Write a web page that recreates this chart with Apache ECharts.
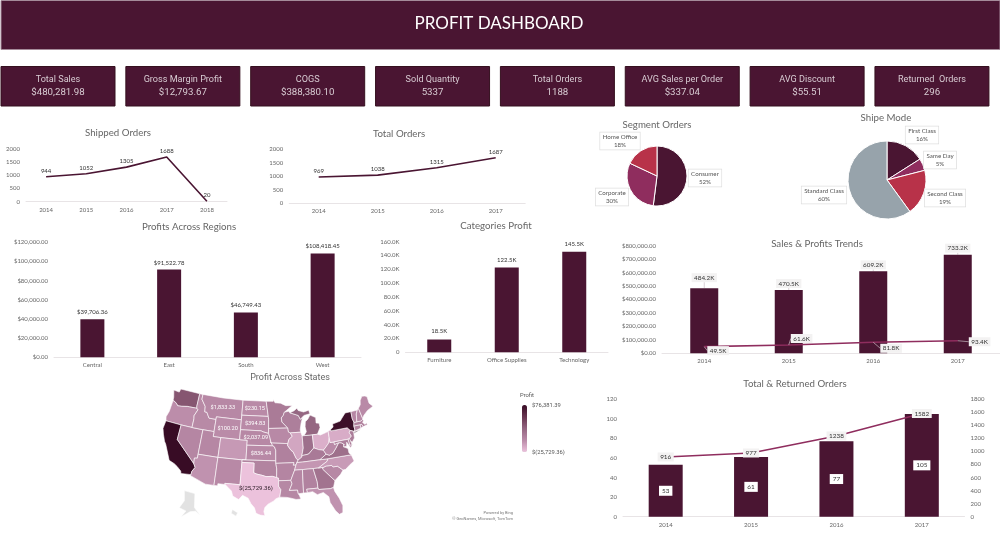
<!DOCTYPE html>
<html>
<head>
    <meta charset="utf-8">
    <title>Profit Dashboard</title>
    <script src="https://cdn.jsdelivr.net/npm/echarts@6/dist/echarts.min.js"></script>
</head>
<style>
    html, body {
        margin: 0;
        background: #fff;
    }
    #main {
        width: 1000px;
        height: 545px;
    }
</style>
<body>
    <div id="main"></div>
    <script type="text/javascript">
        var kpiLabels = ['Total Sales', 'Gross Margin Profit', 'COGS', 'Sold Quantity', 'Total Orders', 'AVG Sales per Order', 'AVG Discount', 'Returned  Orders'];
        var kpiValues = ['$480,281.98', '$12,793.67', '$388,380.10', '5337', '1188', '$337.04', '$55.51', '296'];

        var shippedYears = ['2014', '2015', '2016', '2017', '2018'];
        var shippedOrders = [944, 1052, 1305, 1688, 20];
        var years = ['2014', '2015', '2016', '2017'];
        var totalOrders = [969, 1038, 1315, 1687];

        var segmentNames = ['Consumer', 'Corporate', 'Home Office'];
        var segmentShare = [52, 30, 18];
        var shipNames = ['First Class', 'Same Day', 'Second Class', 'Standard Class'];
        var shipShare = [16, 5, 19, 60];

        var regionNames = ['Central', 'East', 'South', 'West'];
        var regionProfit = [39706.36, 91522.78, 46749.43, 108418.45];
        var categoryNames = ['Furniture', 'Office Supplies', 'Technology'];
        var categoryProfit = [18.5, 122.5, 145.5];

        var trendSales = [484.2, 470.5, 609.2, 733.2];
        var trendProfit = [49.5, 61.6, 81.8, 93.4];
        var returnedBars = [53, 61, 77, 105];
        var returnedLine = [916, 977, 1238, 1582];

        var stateNames = ['California', 'New York', 'Texas', 'Washington', 'Michigan', 'Virginia', 'Indiana', 'Georgia', 'Kentucky', 'Minnesota', 'Delaware', 'New Jersey', 'Wisconsin', 'Rhode Island', 'Maryland', 'Massachusetts', 'Missouri', 'Alabama', 'Oklahoma', 'Arkansas', 'Connecticut', 'Nevada', 'Mississippi', 'Utah', 'Vermont', 'Louisiana', 'Nebraska', 'Montana', 'South Carolina', 'New Hampshire', 'New Mexico', 'Iowa', 'Kansas', 'Idaho', 'Maine', 'South Dakota', 'North Dakota', 'District of Columbia', 'Wyoming', 'West Virginia', 'Tennessee', 'North Carolina', 'Ohio', 'Pennsylvania', 'Illinois', 'Florida', 'Oregon', 'Colorado', 'Arizona'];
        var stateProfit = [76381.39, 74038.55, -25729.36, 33402.65, 24463.19, 18597.95, 18382.94, 16250.04, 11199.70, 10823.19, 9977.37, 9772.91, 8401.80, 7285.63, 7031.18, 6785.50, 6436.21, 5786.83, 4853.96, 4008.69, 3511.49, 3316.77, 3172.98, 2546.53, 2244.98, 2196.10, 2037.09, 1833.33, 1769.06, 1706.50, 1157.12, 1183.81, 836.44, 826.72, 454.49, 394.83, 230.15, 1059.59, 100.20, 185.92, -5341.69, -7490.91, -16971.38, -15559.96, -12607.89, -3399.30, -1190.47, -6527.86, -3427.92];
        var labelledStates = ['Montana', 'North Dakota', 'South Dakota', 'Wyoming', 'Nebraska', 'Kansas', 'Texas'];

        // simplified state outlines, lon/lat. Alaska and Hawaii are moved under the mainland as inset shapes
        var stateShapes = {
            'Washington': [[[-124.7,48.4],[-123,48.3],[-122.8,49],[-117.03,49],[-117.04,46.4],[-116.9,45.99],[-119,45.93],[-119.6,45.92],[-121.2,45.65],[-122.3,45.55],[-122.8,45.9],[-123.4,46.2],[-124,46.3],[-124.1,47]]],
            'Oregon': [[[-124,46.3],[-123.4,46.2],[-122.8,45.9],[-122.3,45.55],[-121.2,45.65],[-119.6,45.92],[-119,45.93],[-116.9,45.99],[-116.5,45.75],[-117.2,44.4],[-117.03,43.8],[-117.03,42],[-120,42],[-124.2,42],[-124.5,42.8],[-124.1,44]]],
            'California': [[[-124.2,42],[-120,42],[-120,39],[-114.63,35],[-114.13,34.3],[-114.7,33.4],[-114.72,32.72],[-117.12,32.53],[-117.3,33],[-118.4,33.75],[-119.2,34.15],[-120.6,34.55],[-121.9,36.6],[-122.5,37.5],[-123,38],[-123.8,39.3],[-124.35,40.4]]],
            'Nevada': [[[-120,42],[-117.03,42],[-114.04,42],[-114.04,37],[-114.04,36.2],[-114.75,36.1],[-114.63,35],[-120,39]]],
            'Idaho': [[[-117.03,49],[-116.05,49],[-116.05,48],[-114.7,46.7],[-114.5,45.6],[-113.9,45.6],[-113.5,45.1],[-113,44.5],[-111.05,44.5],[-111.05,42],[-114.04,42],[-117.03,42],[-117.03,43.8],[-117.2,44.4],[-116.5,45.75],[-116.9,45.99],[-117.04,46.4]]],
            'Montana': [[[-116.05,49],[-110,49],[-104.05,49],[-104.05,45.94],[-104.05,45],[-111.05,45],[-111.05,44.5],[-113,44.5],[-113.5,45.1],[-113.9,45.6],[-114.5,45.6],[-114.7,46.7],[-116.05,48]]],
            'Wyoming': [[[-111.05,45],[-104.05,45],[-104.05,43],[-104.05,41],[-109.05,41],[-111.05,41],[-111.05,42],[-111.05,44.5]]],
            'Utah': [[[-114.04,42],[-111.05,42],[-111.05,41],[-109.05,41],[-109.05,37],[-114.04,37]]],
            'Colorado': [[[-109.05,41],[-104.05,41],[-102.05,41],[-102.05,40],[-102.05,37],[-103,37],[-109.05,37]]],
            'Arizona': [[[-114.04,37],[-109.05,37],[-109.05,31.33],[-111.07,31.33],[-114.82,32.5],[-114.72,32.72],[-114.7,33.4],[-114.13,34.3],[-114.63,35],[-114.75,36.1],[-114.04,36.2]]],
            'New Mexico': [[[-109.05,37],[-103,37],[-103,36.5],[-103.05,32],[-106.6,32],[-106.5,31.78],[-108.2,31.78],[-108.2,31.33],[-109.05,31.33]]],
            'North Dakota': [[[-104.05,49],[-97.2,49],[-96.56,45.93],[-104.05,45.94]]],
            'South Dakota': [[[-104.05,45.94],[-96.56,45.93],[-96.45,45.3],[-96.45,43.5],[-96.45,42.5],[-97.9,42.8],[-98.5,43],[-104.05,43]]],
            'Nebraska': [[[-104.05,43],[-98.5,43],[-97.9,42.8],[-96.45,42.5],[-96.1,41.7],[-95.85,40.7],[-95.3,40],[-102.05,40],[-102.05,41],[-104.05,41]]],
            'Kansas': [[[-102.05,40],[-95.3,40],[-94.9,39.8],[-94.6,39.1],[-94.62,37],[-103,37],[-102.05,37]]],
            'Oklahoma': [[[-103,37],[-94.62,37],[-94.62,36.5],[-94.43,35.4],[-94.48,33.64],[-95.5,33.9],[-97,33.85],[-98,34.1],[-99.2,34.3],[-100,34.56],[-100,36.5],[-103,36.5]]],
            'Texas': [[[-106.6,32],[-103.05,32],[-103,36.5],[-100,36.5],[-100,34.56],[-99.2,34.3],[-98,34.1],[-97,33.85],[-95.5,33.9],[-94.48,33.64],[-94.04,33.55],[-94.04,33],[-94.05,31.9],[-93.55,31.2],[-93.85,29.7],[-94.7,29.4],[-95.3,28.9],[-96.5,28.3],[-97.2,27.6],[-97.4,26.8],[-97.15,25.95],[-98.2,26.05],[-99.1,26.4],[-99.5,27.5],[-100.3,28.3],[-101,29.4],[-102.3,29.9],[-103.1,29],[-104.5,29.6],[-104.9,30.6],[-106.5,31.78]]],
            'Minnesota': [[[-97.2,49],[-95.15,49],[-95.15,49.38],[-94.6,48.7],[-93,48.6],[-91.5,48.05],[-89.6,48],[-92,46.7],[-92.3,46.1],[-92.9,45.6],[-92.75,44.75],[-91.22,43.5],[-96.45,43.5],[-96.45,45.3],[-96.56,45.93]]],
            'Iowa': [[[-96.45,43.5],[-91.22,43.5],[-91.1,42.7],[-90.65,42.5],[-90.15,41.8],[-91.1,41.2],[-91.42,40.38],[-95.77,40.58],[-95.85,40.7],[-96.1,41.7],[-96.45,42.5]]],
            'Missouri': [[[-95.77,40.58],[-91.42,40.38],[-91.5,40],[-90.7,39],[-90.2,38.7],[-89.5,37.3],[-89.1,36.95],[-89.42,36.5],[-89.7,36],[-90.37,36],[-90.15,36.5],[-94.62,36.5],[-94.62,37],[-94.6,39.1],[-94.9,39.8],[-95.3,40],[-95.85,40.7]]],
            'Arkansas': [[[-94.62,36.5],[-90.15,36.5],[-90.37,36],[-89.7,36],[-90.1,35],[-91.15,33],[-94.04,33],[-94.04,33.55],[-94.48,33.64],[-94.43,35.4]]],
            'Louisiana': [[[-94.04,33],[-91.15,33],[-90.9,32.3],[-91.6,31],[-89.73,31],[-89.6,30.2],[-89.4,29.9],[-89.1,29.1],[-90.2,29.1],[-91.3,29.4],[-92.2,29.6],[-93.85,29.7],[-93.55,31.2],[-94.05,31.9]]],
            'Wisconsin': [[[-92,46.7],[-90.8,46.9],[-90.4,46.55],[-88.1,45.9],[-87.6,45.1],[-87,45.3],[-87.5,44.3],[-87.9,43],[-87.8,42.5],[-90.65,42.5],[-91.1,42.7],[-91.22,43.5],[-92.75,44.75],[-92.9,45.6],[-92.3,46.1]]],
            'Illinois': [[[-90.65,42.5],[-87.8,42.5],[-87.53,41.7],[-87.53,39.3],[-88.05,37.8],[-88.1,37.5],[-89.1,36.95],[-89.5,37.3],[-90.2,38.7],[-90.7,39],[-91.5,40],[-91.42,40.38],[-91.1,41.2],[-90.15,41.8]]],
            'Indiana': [[[-87.53,41.7],[-87,41.75],[-84.8,41.75],[-84.82,39.1],[-85.4,38.7],[-86.3,38],[-87,37.9],[-88.05,37.8],[-87.53,39.3]]],
            'Michigan': [[[-87,41.75],[-84.8,41.75],[-83.45,41.73],[-82.5,43],[-82.6,43.9],[-83.4,44],[-83.3,45.1],[-84.8,45.75],[-85.5,45],[-86.3,44.5],[-86.5,43.5],[-86.3,42.5]], [[-90.4,46.55],[-88.1,45.9],[-87.6,45.1],[-86.5,45.8],[-84.8,46],[-85,46.75],[-86.5,46.5],[-88,46.9],[-88.3,47.4],[-89.2,46.9]]],
            'Ohio': [[[-84.8,41.75],[-83.45,41.73],[-82.7,41.5],[-81.3,41.8],[-80.52,42],[-80.52,40.64],[-80.85,39.7],[-81.7,39],[-82.5,38.4],[-83.7,38.65],[-84.82,39.1]]],
            'Kentucky': [[[-84.82,39.1],[-83.7,38.65],[-82.5,38.4],[-81.97,37.54],[-83.68,36.6],[-88.07,36.5],[-89.42,36.5],[-89.1,36.95],[-88.1,37.5],[-88.05,37.8],[-87,37.9],[-86.3,38],[-85.4,38.7]]],
            'Tennessee': [[[-83.68,36.6],[-81.68,36.59],[-82,36.1],[-84.32,35],[-85.6,35],[-88.2,35],[-90.1,35],[-89.7,36],[-89.42,36.5],[-88.07,36.5]]],
            'Mississippi': [[[-90.1,35],[-88.2,35],[-88.4,30.3],[-89.6,30.2],[-89.73,31],[-91.6,31],[-90.9,32.3],[-91.15,33]]],
            'Alabama': [[[-88.2,35],[-85.6,35],[-85,32.3],[-85,31],[-87.6,31],[-87.5,30.3],[-88.4,30.3]]],
            'Georgia': [[[-85.6,35],[-84.32,35],[-83.1,35],[-83.35,34.7],[-81.4,32.6],[-80.85,32.05],[-81.45,30.72],[-82.2,30.57],[-84.86,30.7],[-85,31],[-85,32.3]]],
            'Florida': [[[-87.6,31],[-85,31],[-84.86,30.7],[-82.2,30.57],[-81.45,30.72],[-81.3,29.9],[-80.55,28.4],[-80.05,26.8],[-80.3,25.4],[-81.1,25.15],[-81.8,26],[-82.7,27.8],[-82.8,29],[-83.9,30],[-85.3,29.7],[-86.3,30.4],[-87.5,30.3]]],
            'South Carolina': [[[-83.35,34.7],[-83.1,35],[-82.4,35.2],[-81,35.15],[-80.8,34.82],[-79.67,34.8],[-78.55,33.86],[-79.3,33.1],[-80.85,32.05],[-81.4,32.6]]],
            'North Carolina': [[[-84.32,35],[-82,36.1],[-81.68,36.59],[-75.85,36.55],[-75.5,35.2],[-76.6,34.7],[-77.9,33.9],[-78.55,33.86],[-79.67,34.8],[-80.8,34.82],[-81,35.15],[-82.4,35.2],[-83.1,35]]],
            'Virginia': [[[-83.68,36.6],[-81.97,37.54],[-81.2,37.25],[-80.3,37.5],[-79.3,38.42],[-78.35,39.4],[-77.7,39.3],[-77.1,38.9],[-77.3,38.4],[-76.3,37.9],[-76.3,37],[-75.85,36.55],[-81.68,36.59]]],
            'West Virginia': [[[-82.5,38.4],[-81.7,39],[-80.85,39.7],[-80.52,40.64],[-80.52,39.72],[-79.48,39.72],[-79.48,39.2],[-78.35,39.4],[-79.3,38.42],[-80.3,37.5],[-81.2,37.25],[-81.97,37.54]]],
            'Pennsylvania': [[[-80.52,42],[-79.76,42.27],[-79.76,42],[-75.35,42],[-74.7,41.35],[-75.1,40.95],[-74.75,40.2],[-75.4,39.8],[-75.79,39.72],[-79.48,39.72],[-80.52,39.72],[-80.52,40.64]]],
            'New York': [[[-79.76,42.27],[-79,42.7],[-79,43.3],[-76.8,43.6],[-76.2,44.1],[-75,45],[-73.35,45],[-73.45,43.6],[-73.25,42.75],[-73.5,42.05],[-73.5,41.3],[-73.65,41],[-73.9,41],[-74.7,41.35],[-75.35,42],[-79.76,42]], [[-74,40.6],[-72,41.05],[-73.7,40.9]]],
            'New Jersey': [[[-74.7,41.35],[-73.9,41],[-74,40.5],[-74.1,39.7],[-74.9,38.95],[-75.5,39.5],[-75.4,39.8],[-74.75,40.2],[-75.1,40.95]]],
            'Delaware': [[[-75.79,39.72],[-75.4,39.8],[-75.05,38.45],[-75.7,38.46]]],
            'Maryland': [[[-79.48,39.72],[-75.79,39.72],[-75.7,38.46],[-75.05,38.45],[-75.6,37.95],[-76.3,39.2],[-76.5,38.4],[-77.3,38.4],[-77.1,38.9],[-77.7,39.3],[-78.35,39.4],[-79.48,39.2]]],
            'District of Columbia': [[[-77.12,38.93],[-77.04,39],[-76.95,38.9],[-77.04,38.8]]],
            'Connecticut': [[[-73.5,42.05],[-71.8,42.02],[-71.8,41.32],[-73.65,41],[-73.5,41.3]]],
            'Rhode Island': [[[-71.8,42.02],[-71.38,42.02],[-71.15,41.5],[-71.8,41.32]]],
            'Massachusetts': [[[-73.25,42.75],[-72.45,42.73],[-71.3,42.7],[-70.8,42.87],[-70.6,42.65],[-71,42.3],[-70.5,41.8],[-70,42.05],[-69.95,41.65],[-70.65,41.55],[-71.15,41.5],[-71.38,42.02],[-71.8,42.02],[-73.5,42.05]]],
            'Vermont': [[[-73.35,45],[-71.5,45],[-72.05,44.3],[-72.45,42.73],[-73.25,42.75],[-73.45,43.6]]],
            'New Hampshire': [[[-71.5,45],[-71.08,45.3],[-70.7,43.1],[-70.8,42.87],[-71.3,42.7],[-72.45,42.73],[-72.05,44.3]]],
            'Maine': [[[-71.08,45.3],[-70.3,45.9],[-70,46.7],[-69.2,47.45],[-68.3,47.35],[-67.8,47.05],[-67.8,45.7],[-67,44.9],[-68.8,44.4],[-70.2,43.6],[-70.7,43.1]]],
            'Alaska': [[[-115.49,29.3],[-113.03,29.1],[-112.57,26.3],[-111.03,24.9],[-112.18,25.6],[-113.34,25.3],[-115.03,23.9],[-114.26,25.3],[-115.8,25.7],[-115.03,27.3]]],
            'Hawaii': [[[-104.3,26.9],[-103.1,26.3],[-103.4,25.6],[-104.5,26.1]]]
        };

        var DARK = '#4a1532', MAGENTA = '#8f2d5e', RED = '#b83249', GREY = '#97a3ab';
        var CHART_FONT = 'Lato', KPI_FONT = 'Roboto';

        // albers conic, y stretched a bit because the picture's map is taller than true albers
        var RAD = Math.PI / 180;
        var STRETCH = 1.18;
        var P1 = 29.5 * RAD, P2 = 45.5 * RAD, P0 = 37.5 * RAD, L0 = -96 * RAD;
        var N = (Math.sin(P1) + Math.sin(P2)) / 2;
        var C = Math.cos(P1) * Math.cos(P1) + 2 * N * Math.sin(P1);
        var R0 = Math.sqrt(C - 2 * N * Math.sin(P0)) / N;
        var albers = {
            project: function (p) {
                var r = Math.sqrt(C - 2 * N * Math.sin(p[1] * RAD)) / N;
                var t = N * (p[0] * RAD - L0);
                return [1000 * r * Math.sin(t), -1000 * STRETCH * (R0 - r * Math.cos(t))];
            },
            unproject: function (p) {
                var x = p[0] / 1000, y = R0 + p[1] / (1000 * STRETCH);
                var r = Math.sqrt(x * x + y * y);
                var lat = Math.asin((C - r * r * N * N) / (2 * N));
                return [(Math.atan2(x, y) / N + L0) / RAD, lat / RAD];
            }
        };

        var features = [];
        for (var name in stateShapes) {
            features.push({
                type: 'Feature',
                properties: { name: name },
                geometry: { type: 'MultiPolygon', coordinates: stateShapes[name].map(function (ring) { return [ring]; }) }
            });
        }
        echarts.registerMap('USA', { type: 'FeatureCollection', features: features });

        var stateData = stateNames.map(function (name, i) {
            var item = { name: name, value: stateProfit[i] };
            if (labelledStates.indexOf(name) >= 0) {
                item.label = { show: true };
                if (name == 'Texas') {
                    item.label.color = '#2a1a24';
                    item.label.fontSize = 6;
                }
            }
            return item;
        });

        function money(v) {
            var s = Math.abs(v).toFixed(2).replace(/\B(?=(\d{3})+(?!\d))/g, ',');
            return v < 0 ? '$(' + s + ')' : '$' + s;
        }
        function axisText(size) {
            return { fontFamily: CHART_FONT, fontSize: size || 6, color: '#666' };
        }
        function makeTitle(text, x, y, font, size) {
            return {
                text: text, left: x, top: y - 6, textAlign: 'center', padding: 0,
                textStyle: { fontFamily: font || CHART_FONT, fontSize: size || 9.7, fontWeight: 'normal', color: '#666' }
            };
        }
        function makeGrid(left, top, width, height) {
            return { left: left, top: top, width: width, height: height };
        }
        function makeX(names, gridIndex) {
            return {
                type: 'category', gridIndex: gridIndex, data: names,
                axisTick: { show: false },
                axisLine: { lineStyle: { color: '#e8e4e6', width: 1 } },
                axisLabel: Object.assign(axisText(), { margin: 5, interval: 0 })
            };
        }
        function makeY(gridIndex, max, step, format, position) {
            return {
                type: 'value', gridIndex: gridIndex, min: 0, max: max, interval: step, position: position || 'left',
                splitLine: { show: false }, axisLine: { show: false }, axisTick: { show: false },
                axisLabel: Object.assign(axisText(), { margin: 6, formatter: format || function (v) { return String(v); } })
            };
        }
        function pointLabel(extra) {
            return Object.assign({
                show: true, fontFamily: CHART_FONT, fontSize: 6, color: '#333'
            }, extra);
        }
        function makePie(names, shares, colors, cx, cy, radius, labelX, labelY) {
            return {
                type: 'pie', center: [cx, cy], radius: radius, startAngle: 90, clockwise: true,
                avoidLabelOverlap: false, silent: true,
                data: names.map(function (n, i) { return { name: n, value: shares[i] }; }),
                itemStyle: {
                    color: function (p) { return colors[p.dataIndex]; },
                    borderColor: '#fff', borderWidth: 1
                },
                label: {
                    position: 'outside', formatter: '{b}\n{c}%', fontFamily: CHART_FONT, fontSize: 6.2, lineHeight: 7.5,
                    color: '#555', align: 'center', backgroundColor: '#fff', borderColor: '#dedede', borderWidth: 0.7, padding: [1, 2.5]
                },
                labelLine: { show: false },
                labelLayout: function (p) {
                    return { x: labelX[p.dataIndex], y: labelY[p.dataIndex], align: 'center', verticalAlign: 'middle' };
                }
            };
        }

        // offsets of the moved labels, dx and dy per point
        var salesDy = [-4, 0, 0, 0];
        var profitDx = [3, 2, 7, 11];
        var profitDy = [4, -6.5, 6, 1];
        var leader = { show: true, lineStyle: { color: '#c8bcc3', width: 0.7 } };

        var graphics = [{
            type: 'rect', shape: { x: 1, y: 0.5, width: 999, height: 49 },
            style: { fill: DARK, stroke: '#a58b9a', lineWidth: 1 }
        }, {
            type: 'text', x: 499, y: 24,
            style: { text: 'PROFIT DASHBOARD', fill: '#fff', font: '17px Lato', textAlign: 'center', textVerticalAlign: 'middle' }
        }];
        kpiLabels.forEach(function (label, i) {
            var x = 1 + i * 124.85;
            graphics.push({
                type: 'rect', shape: { x: x, y: 66.5, width: 114, height: 39.5 },
                style: { fill: DARK, stroke: '#35101f', lineWidth: 1 }
            });
            graphics.push({
                type: 'text', x: x + 57, y: 79.5,
                style: { text: label, fill: '#d8ccd3', font: '9.1px ' + KPI_FONT, textAlign: 'center', textVerticalAlign: 'middle' }
            });
            graphics.push({
                type: 'text', x: x + 57, y: 92.3,
                style: { text: kpiValues[i], fill: '#d8ccd3', font: '9.7px ' + KPI_FONT, textAlign: 'center', textVerticalAlign: 'middle' }
            });
        });
        // map legend text and bing credit
        graphics.push(
            { type: 'text', x: 520, y: 396, style: { text: 'Profit', fill: '#555', font: '5.8px ' + KPI_FONT, textVerticalAlign: 'middle' } },
            { type: 'text', x: 532, y: 406, style: { text: money(76381.39), fill: '#555', font: '5.8px ' + KPI_FONT, textVerticalAlign: 'middle' } },
            { type: 'text', x: 532, y: 453, style: { text: money(-25729.36), fill: '#555', font: '5.8px ' + KPI_FONT, textVerticalAlign: 'middle' } },
            { type: 'text', x: 513, y: 513, style: { text: 'Powered by Bing', fill: '#777', font: '4px ' + KPI_FONT, textAlign: 'right', textVerticalAlign: 'middle' } },
            { type: 'text', x: 513, y: 518.5, style: { text: '\u00a9 GeoNames, Microsoft, TomTom', fill: '#777', font: '4px ' + KPI_FONT, textAlign: 'right', textVerticalAlign: 'middle' } }
        );

        var option = {
            animation: false,
            backgroundColor: '#fff',
            graphic: graphics,
            title: [
                makeTitle('Shipped Orders', 118, 134),
                makeTitle('Total Orders', 399, 134.5),
                makeTitle('Segment Orders', 657, 125.5),
                makeTitle('Shipe Mode', 886, 119),
                makeTitle('Profits Across Regions', 189, 228),
                makeTitle('Categories Profit', 496, 227),
                makeTitle('Sales & Profits Trends', 817, 245),
                makeTitle('Profit Across States', 290, 379, KPI_FONT, 9),
                makeTitle('Total & Returned Orders', 795, 385)
            ],
            grid: [
                makeGrid(26, 148.7, 201, 53),
                makeGrid(289.2, 149.3, 236, 53.7),
                makeGrid(54, 242.3, 307, 115),
                makeGrid(405.5, 241.7, 202.5, 110.6),
                makeGrid(662, 245.7, 351, 107.6),
                makeGrid(623, 399.3, 341.5, 117.4)
            ],
            xAxis: [
                makeX(shippedYears, 0), makeX(years, 1), makeX(regionNames, 2),
                makeX(categoryNames, 3), makeX(years, 4), makeX(years, 5)
            ],
            yAxis: [
                makeY(0, 2000, 500),
                makeY(1, 2000, 500),
                makeY(2, 120000, 20000, function (v) { return money(v); }),
                makeY(3, 160, 20, function (v) { return v == 0 ? '0' : v.toFixed(1) + 'K'; }),
                makeY(4, 800, 100, function (v) { return money(v * 1000); }),
                makeY(5, 120, 20),
                makeY(5, 1800, 200, null, 'right')
            ],
            visualMap: {
                type: 'continuous', seriesIndex: 0, min: -25729.36, max: 76381.39,
                left: 507, top: 390, itemWidth: 5, itemHeight: 47, text: null, showLabel: false,
                calculable: false, hoverLink: false, silent: true,
                inRange: { color: ['#ecc2dc', '#ba8ba8', '#946681', '#683550', '#380c25'] }
            },
            series: [{
                type: 'map', map: 'USA', projection: albers, silent: true,
                left: 163, top: 389, width: 210, height: 128,
                data: stateData,
                itemStyle: { areaColor: '#e2e2e2', borderColor: '#fff', borderWidth: 0.6 },
                label: {
                    show: false, color: '#fff', fontFamily: KPI_FONT, fontSize: 5.6,
                    formatter: function (p) { return money(p.value); }
                }
            }, {
                type: 'line', xAxisIndex: 0, yAxisIndex: 0, data: shippedOrders, symbol: 'circle', symbolSize: 0.1,
                lineStyle: { color: DARK, width: 1.6 }, itemStyle: { color: DARK, borderWidth: 0 },
                label: pointLabel({ position: 'top', distance: 3 })
            }, {
                type: 'line', xAxisIndex: 1, yAxisIndex: 1, data: totalOrders, symbol: 'circle', symbolSize: 0.1,
                lineStyle: { color: DARK, width: 1.6 }, itemStyle: { color: DARK, borderWidth: 0 },
                label: pointLabel({ position: 'top', distance: 3 })
            },
            makePie(segmentNames, segmentShare, [DARK, MAGENTA, RED], 657, 176, 30, [705, 612, 620], [178, 197, 141]),
            makePie(shipNames, shipShare, [DARK, MAGENTA, RED, GREY], 887, 180, 39, [922, 940, 945, 824], [135, 160, 198, 195]),
            {
                type: 'bar', xAxisIndex: 2, yAxisIndex: 2, data: regionProfit, barWidth: 24,
                itemStyle: { color: DARK },
                label: pointLabel({ position: 'top', distance: 4, formatter: function (p) { return money(p.value); } })
            }, {
                type: 'bar', xAxisIndex: 3, yAxisIndex: 3, data: categoryProfit, barWidth: 24,
                itemStyle: { color: DARK },
                label: pointLabel({ position: 'top', distance: 5, formatter: '{c}K' })
            }, {
                type: 'bar', xAxisIndex: 4, yAxisIndex: 4, data: trendSales, barWidth: 28,
                itemStyle: { color: DARK },
                label: pointLabel({ position: 'top', distance: 2, fontSize: 6.3, formatter: '{c}K', backgroundColor: '#f3f2f2', padding: [1.5, 2.5] }),
                labelLine: leader,
                labelLayout: function (p) {
                    return { dy: salesDy[p.dataIndex] };
                }
            }, {
                type: 'line', xAxisIndex: 4, yAxisIndex: 4, data: trendProfit, symbol: 'circle', symbolSize: 0.1,
                lineStyle: { color: MAGENTA, width: 1.6 }, itemStyle: { color: MAGENTA, borderWidth: 0 },
                label: pointLabel({ position: 'right', distance: 0, fontSize: 6.3, formatter: '{c}K', backgroundColor: '#f3f2f2', padding: [1.5, 2.5] }),
                labelLine: leader,
                labelLayout: function (p) {
                    return { dx: profitDx[p.dataIndex], dy: profitDy[p.dataIndex] };
                }
            }, {
                type: 'bar', xAxisIndex: 5, yAxisIndex: 5, data: returnedBars, barWidth: 34,
                itemStyle: { color: DARK },
                label: pointLabel({ position: 'inside', fontSize: 6.4, backgroundColor: '#fff', padding: [2, 3] })
            }, {
                type: 'line', xAxisIndex: 5, yAxisIndex: 6, data: returnedLine, symbol: 'circle', symbolSize: 0.1,
                lineStyle: { color: MAGENTA, width: 1.6 }, itemStyle: { color: MAGENTA, borderWidth: 0 },
                label: pointLabel({ position: 'inside', fontSize: 6.4, backgroundColor: '#f3f2f2', padding: [1.5, 2.5] })
            }]
        };

        var myChart = echarts.init(document.getElementById('main'));
        myChart.setOption(option);
    </script>
</body>
</html>
